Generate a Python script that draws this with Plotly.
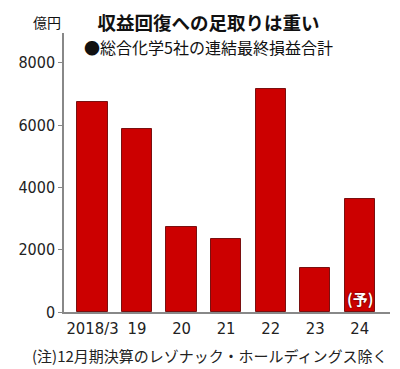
import plotly.graph_objects as go

categories = ["2018/3", "19", "20", "21", "22", "23", "24"]
values = [6740, 5870, 2740, 2350, 7170, 1410, 3620]
y_ticks = [0, 2000, 4000, 6000, 8000]

title_text = "収益回復への足取りは重い"
subtitle_text = "●総合化学5社の連結最終損益合計"
unit_text = "億円"
note_text = "(注)12月期決算のレゾナック・ホールディングス除く"
forecast_text = "(予)"

num_font = "DejaVu Sans Condensed, Liberation Sans Narrow, sans-serif"
jp_font = "Noto Sans CJK JP, sans-serif"

x_idx = list(range(len(categories)))

# page body has an 8px default margin, so the figure is 392x361 and placed at (8, 8)
fig = go.Figure(go.Bar(
    x=x_idx, y=values, width=0.68,
    marker=dict(color="#cc0000", line=dict(color="#7a1010", width=1)),
))

heading = ("<b>" + title_text + "</b><br>"
           + "<span style='font-size:16px'>" + subtitle_text + "</span>")

fig.update_layout(
    width=392, height=361,
    margin=dict(l=38, r=10, t=25, b=57),
    paper_bgcolor="white", plot_bgcolor="white",
    showlegend=False,
    bargap=0,
    xaxis=dict(
        range=[-0.64, 6.68], tickmode="array", tickvals=x_idx, ticktext=categories,
        showgrid=False, zeroline=False, showline=True, linecolor="#888", linewidth=1.5,
        ticks="", tickfont=dict(family=num_font, size=16.5, color="#222"),
        fixedrange=True,
    ),
    yaxis=dict(
        range=[0, 8960], tickmode="array", tickvals=y_ticks,
        showgrid=False, zeroline=False, showline=True, linecolor="#888", linewidth=1.5,
        ticks="outside", ticklen=4, tickcolor="#888",
        tickfont=dict(family=num_font, size=16, color="#222"),
        fixedrange=True,
    ),
    annotations=[
        dict(text=heading, xref="paper", yref="paper",
             x=(199 - 46) / 344, y=1 + 25 / 279, xanchor="center", yanchor="top",
             align="center", showarrow=False, borderpad=0,
             font=dict(family=jp_font, size=18.5, color="#111")),
        dict(text=unit_text, xref="paper", yref="paper",
             x=(45 - 46) / 344, y=(369 - 57 - 22) / 279, xanchor="right", yanchor="middle",
             showarrow=False, font=dict(family=jp_font, size=14, color="#111")),
        dict(text=note_text, xref="paper", yref="paper",
             x=(200 - 46) / 344, y=(369 - 57 - 355) / 279, xanchor="center", yanchor="middle",
             showarrow=False, font=dict(family=jp_font, size=15, color="#222")),
        dict(text="<b>" + forecast_text + "</b>", x=6, y=0, xref="x", yref="y",
             xanchor="center", yanchor="bottom", yshift=1, showarrow=False,
             font=dict(family=jp_font, size=15, color="white", shadow="0px 0px 2px #300"),
             ),
    ],
)

fig.write_html("out.html")
